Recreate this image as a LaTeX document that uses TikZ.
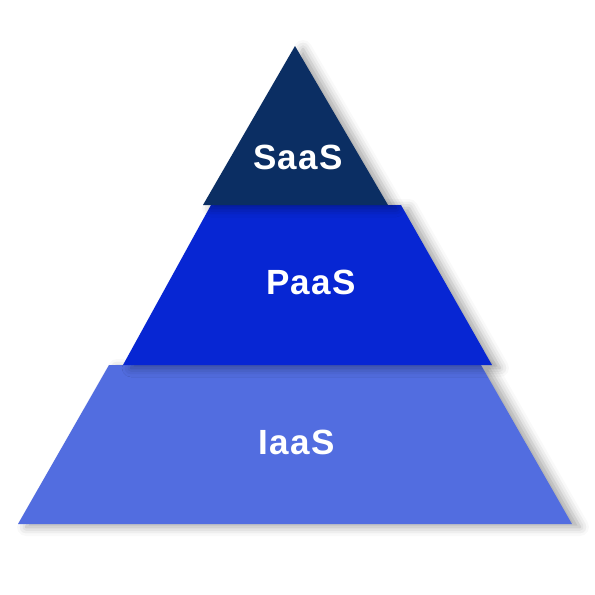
\documentclass[tikz,border=0pt]{standalone}
\usepackage{fontspec}
\setmainfont{Liberation Sans}[LetterSpace=4]
\usepackage{xcolor}
\usepackage{tikz}
\usetikzlibrary{shadows.blur}
\definecolor{saas}{HTML}{0B2E63}
\definecolor{paas}{HTML}{0726D3}
\definecolor{iaas}{HTML}{526DE0}

\begin{document}
\begin{tikzpicture}[
  x=1pt, y=-1pt,
  layer/.style={fill=#1, draw=none,
                blur shadow={shadow xshift=8pt, shadow yshift=-3pt,
                             shadow blur radius=9pt, shadow opacity=35}},
  lbl/.style={font=\fontsize{35}{35}\selectfont\bfseries, text=white, inner sep=0pt}
]
\useasboundingbox (0,0) rectangle (595,595);

% IaaS
\fill[layer=iaas] (109,365) -- (481,365) -- (572,524) -- (18,524) -- cycle;
\node[lbl] (iaastext) at (297,442) {IaaS};

% PaaS
\fill[layer=paas] (211,205) -- (401,205) -- (492,365) -- (123,365) -- cycle;
\node[lbl] (paastext) at (311,282) {PaaS};

% SaaS
\fill[layer=saas] (295,46) -- (388,205) -- (203,205) -- cycle;
\node[lbl] (saastext) at (298,157) {SaaS};

\end{tikzpicture}
\end{document}
